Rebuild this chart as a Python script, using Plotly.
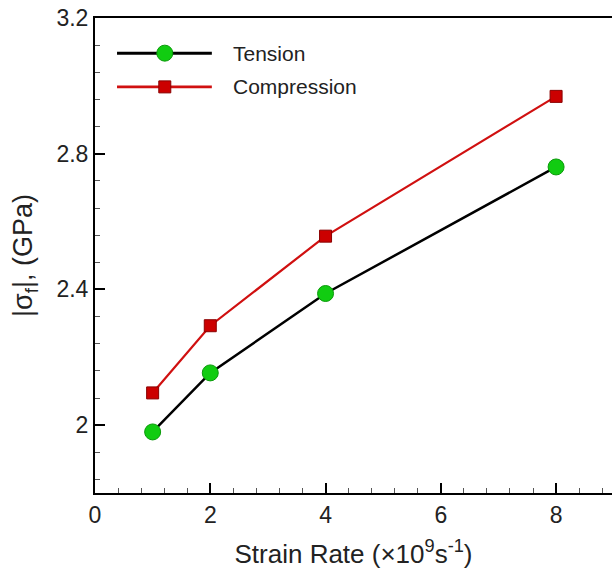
import plotly.graph_objects as go

strain_rate = [1, 2, 4, 8]
tension = [1.98, 2.154, 2.388, 2.761]
compression = [2.095, 2.293, 2.557, 2.969]
y_tickvals = [2.0, 2.4, 2.8, 3.2]
y_ticktext = ["2", "2.4", "2.8", "3.2"]
x_tickvals = [0, 2, 4, 6, 8]
series_names = ["Tension", "Compression"]

styles = [
    dict(line=dict(color="black", width=2.5),
         marker=dict(symbol="circle", size=16, color="#11cc11", line=dict(color="#0a9a0a", width=1))),
    dict(line=dict(color="#d01010", width=2.2),
         marker=dict(symbol="square", size=12, color="#cc0000", line=dict(color="#8a0000", width=1))),
]

fig = go.Figure()
for name, ys, st in zip(series_names, [tension, compression], styles):
    fig.add_trace(go.Scatter(x=strain_rate, y=ys, mode="lines+markers", name=name,
                             line=st["line"], marker=st["marker"], showlegend=False))

# custom legend (long key lines, as in the reference)
legend_rows_y = [0.926, 0.855]
x0, x1, xm, xt = 0.0426, 0.226, 0.135, 0.263
shapes = []
annotations = []
for name, st, yy in zip(series_names, styles, legend_rows_y):
    shapes.append(dict(type="line", xref="paper", yref="paper", x0=x0, x1=x1, y0=yy, y1=yy,
                       line=dict(color=st["line"]["color"], width=st["line"]["width"] + 0.5)))
    s = st["marker"]["size"]
    shapes.append(dict(type="circle" if st["marker"]["symbol"] == "circle" else "rect",
                       xref="paper", yref="paper", xsizemode="pixel", ysizemode="pixel",
                       xanchor=xm, yanchor=yy, x0=-s / 2, x1=s / 2, y0=-s / 2, y1=s / 2,
                       fillcolor=st["marker"]["color"],
                       line=dict(color=st["marker"]["line"]["color"], width=1)))
    annotations.append(dict(text=name, xref="paper", yref="paper", x=xt, y=yy,
                            xanchor="left", yanchor="middle", showarrow=False,
                            font=dict(size=21, color="#222222")))

font = "Liberation Sans, Arial, sans-serif"
fig.update_layout(
    width=612, height=569,
    margin=dict(l=95, r=0, t=18, b=76),
    plot_bgcolor="white", paper_bgcolor="white",
    font=dict(family=font, size=23, color="#222222"),
    shapes=shapes, annotations=annotations,
)
fig.update_xaxes(
    range=[0, 8.97], tickvals=x_tickvals,
    showline=True, linecolor="black", linewidth=2, mirror=True,
    ticks="inside", ticklen=10, tickwidth=2, tickcolor="black",
    minor=dict(dtick=0.4, ticks="inside", ticklen=5, tickwidth=1, tickcolor="#555555"),
    showgrid=False, zeroline=False,
    tickfont=dict(size=23),
    title=dict(text="Strain Rate (×10<sup>9</sup>s<sup>-1</sup>)", font=dict(size=26), standoff=18),
)
fig.update_yaxes(
    range=[1.8, 3.2], tickvals=y_tickvals, ticktext=y_ticktext,
    showline=True, linecolor="black", linewidth=2, mirror=False,
    ticks="inside", ticklen=10, tickwidth=2, tickcolor="black",
    minor=dict(dtick=0.08, tick0=2.0, ticks="inside", ticklen=5, tickwidth=1, tickcolor="#555555"),
    showgrid=False, zeroline=False,
    tickfont=dict(size=23),
    title=dict(text="|σ<sub>f</sub>|, (GPa)", font=dict(size=27), standoff=16),
)

fig.write_html("out.html")
